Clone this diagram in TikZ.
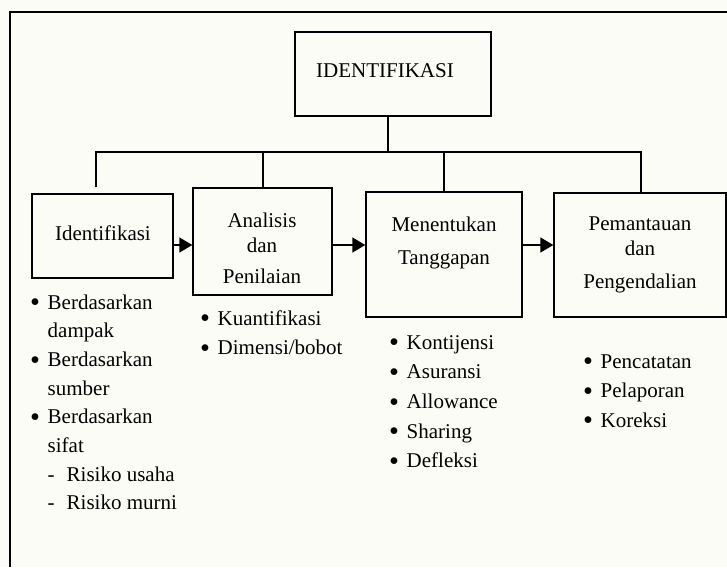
\documentclass[tikz,border=0pt]{standalone}
\usepackage{fontspec}
\setmainfont{Liberation Serif}
\usetikzlibrary{positioning, arrows.meta, calc}
\definecolor{paper}{RGB}{252,252,246}
\tikzset{stagebox/.style={draw, line width=1.4pt, inner sep=0pt},
label_t/.style={align=center, font=\fontsize{21}{25}\selectfont, inner sep=0pt, anchor=base},
list_t/.style={font=\fontsize{21}{28.7}\selectfont, inner sep=0pt, anchor=base west},
tree/.style={line width=1.4pt},
flow/.style={-{Triangle[length=13pt, width=15pt]}, line width=1.4pt}}
\newcommand{\bul}{\makebox[17.5pt][l]{\raisebox{-2.6pt}{\scalebox{1.35}{•}}}}
\newcommand{\gap}{\hspace*{17.5pt}}
\newcommand{\dsh}{\makebox[19pt][l]{-}}

\begin{document}
\begin{tikzpicture}[x=1pt, y=-1pt]
  \fill[paper] (0,0) rectangle (727,567);
  \useasboundingbox (0,0) rectangle (727,567);
  % frame
  \draw[line width=1.4pt] (10,567) |- (727,12);
  % boxes
  \node[stagebox, minimum width=196pt, minimum height=84pt] (top) at (393,74) {};
  \node[stagebox, minimum width=141pt, minimum height=84pt] (idf) at (102.5,236) {};
  \node[stagebox, minimum width=139pt, minimum height=107pt] (ana) at (262.5,241.5) {};
  \node[stagebox, minimum width=156pt, minimum height=125pt] (mnt) at (444,254.5) {};
  \node[stagebox, minimum width=172pt, minimum height=124pt] (pmt) at (640,255) {};
  % box texts (base = last line)
  \node[label_t] (top_t) at (385,78) {IDENTIFIKASI};
  \node[label_t] (idf_t) at (103,240) {Identifikasi};
  \node[label_t] (ana_t) at (262,283) {Analisis\\ dan\\[6pt] Penilaian};
  \node[label_t] (mnt_t) at (444,264) {Menentukan\\[8pt] Tanggapan};
  \node[label_t] (pmt_t) at (640,288) {Pemantauan\\ dan\\[8pt] Pengendalian};
  % tree
  \coordinate (hub) at (388,152);
  \coordinate (br_idf) at (96,152);
  \coordinate (br_ana) at (263,152);
  \coordinate (br_mnt) at (444,152);
  \coordinate (br_pmt) at (641,152);
  \draw[tree] (top.south -| hub) -- (hub);
  \draw[tree] (br_idf |- idf.north) ++(0,-6) |- (br_pmt) -- (br_pmt |- pmt.north);
  \draw[tree] (br_ana) -- (br_ana |- ana.north);
  \draw[tree] (br_mnt) -- (br_mnt |- mnt.north);
  % flow
  \coordinate (arr) at (0,245);
  \draw[flow] (idf.east |- arr) -- (ana.west |- arr);
  \draw[flow] (ana.east |- arr) -- (mnt.west |- arr);
  \draw[flow] (mnt.east |- arr) -- (pmt.west |- arr);
  % lists
  \node[list_t] (l_idf) at (30,309) {\begin{tabular}[t]{@{}l@{}}
    \bul Berdasarkan\\ \gap dampak\\ \bul Berdasarkan\\ \gap sumber\\
    \bul Berdasarkan\\ \gap sifat\\ \gap\dsh Risiko usaha\\ \gap\dsh Risiko murni
  \end{tabular}};
  \node[list_t] (l_ana) at (200,325) {\def\arraystretch{1.045}\begin{tabular}[t]{@{}l@{}}
    \bul Kuantifikasi\\ \bul Dimensi/bobot
  \end{tabular}};
  \node[list_t] (l_mnt) at (389,349) {\def\arraystretch{1.035}\begin{tabular}[t]{@{}l@{}}
    \bul Kontijensi\\ \bul Asuransi\\ \bul Allowance\\ \bul Sharing\\ \bul Defleksi
  \end{tabular}};
  \node[list_t] (l_pmt) at (583,368) {\def\arraystretch{1.028}\begin{tabular}[t]{@{}l@{}}
    \bul Pencatatan\\ \bul Pelaporan\\ \bul Koreksi
  \end{tabular}};
\end{tikzpicture}
\end{document}
